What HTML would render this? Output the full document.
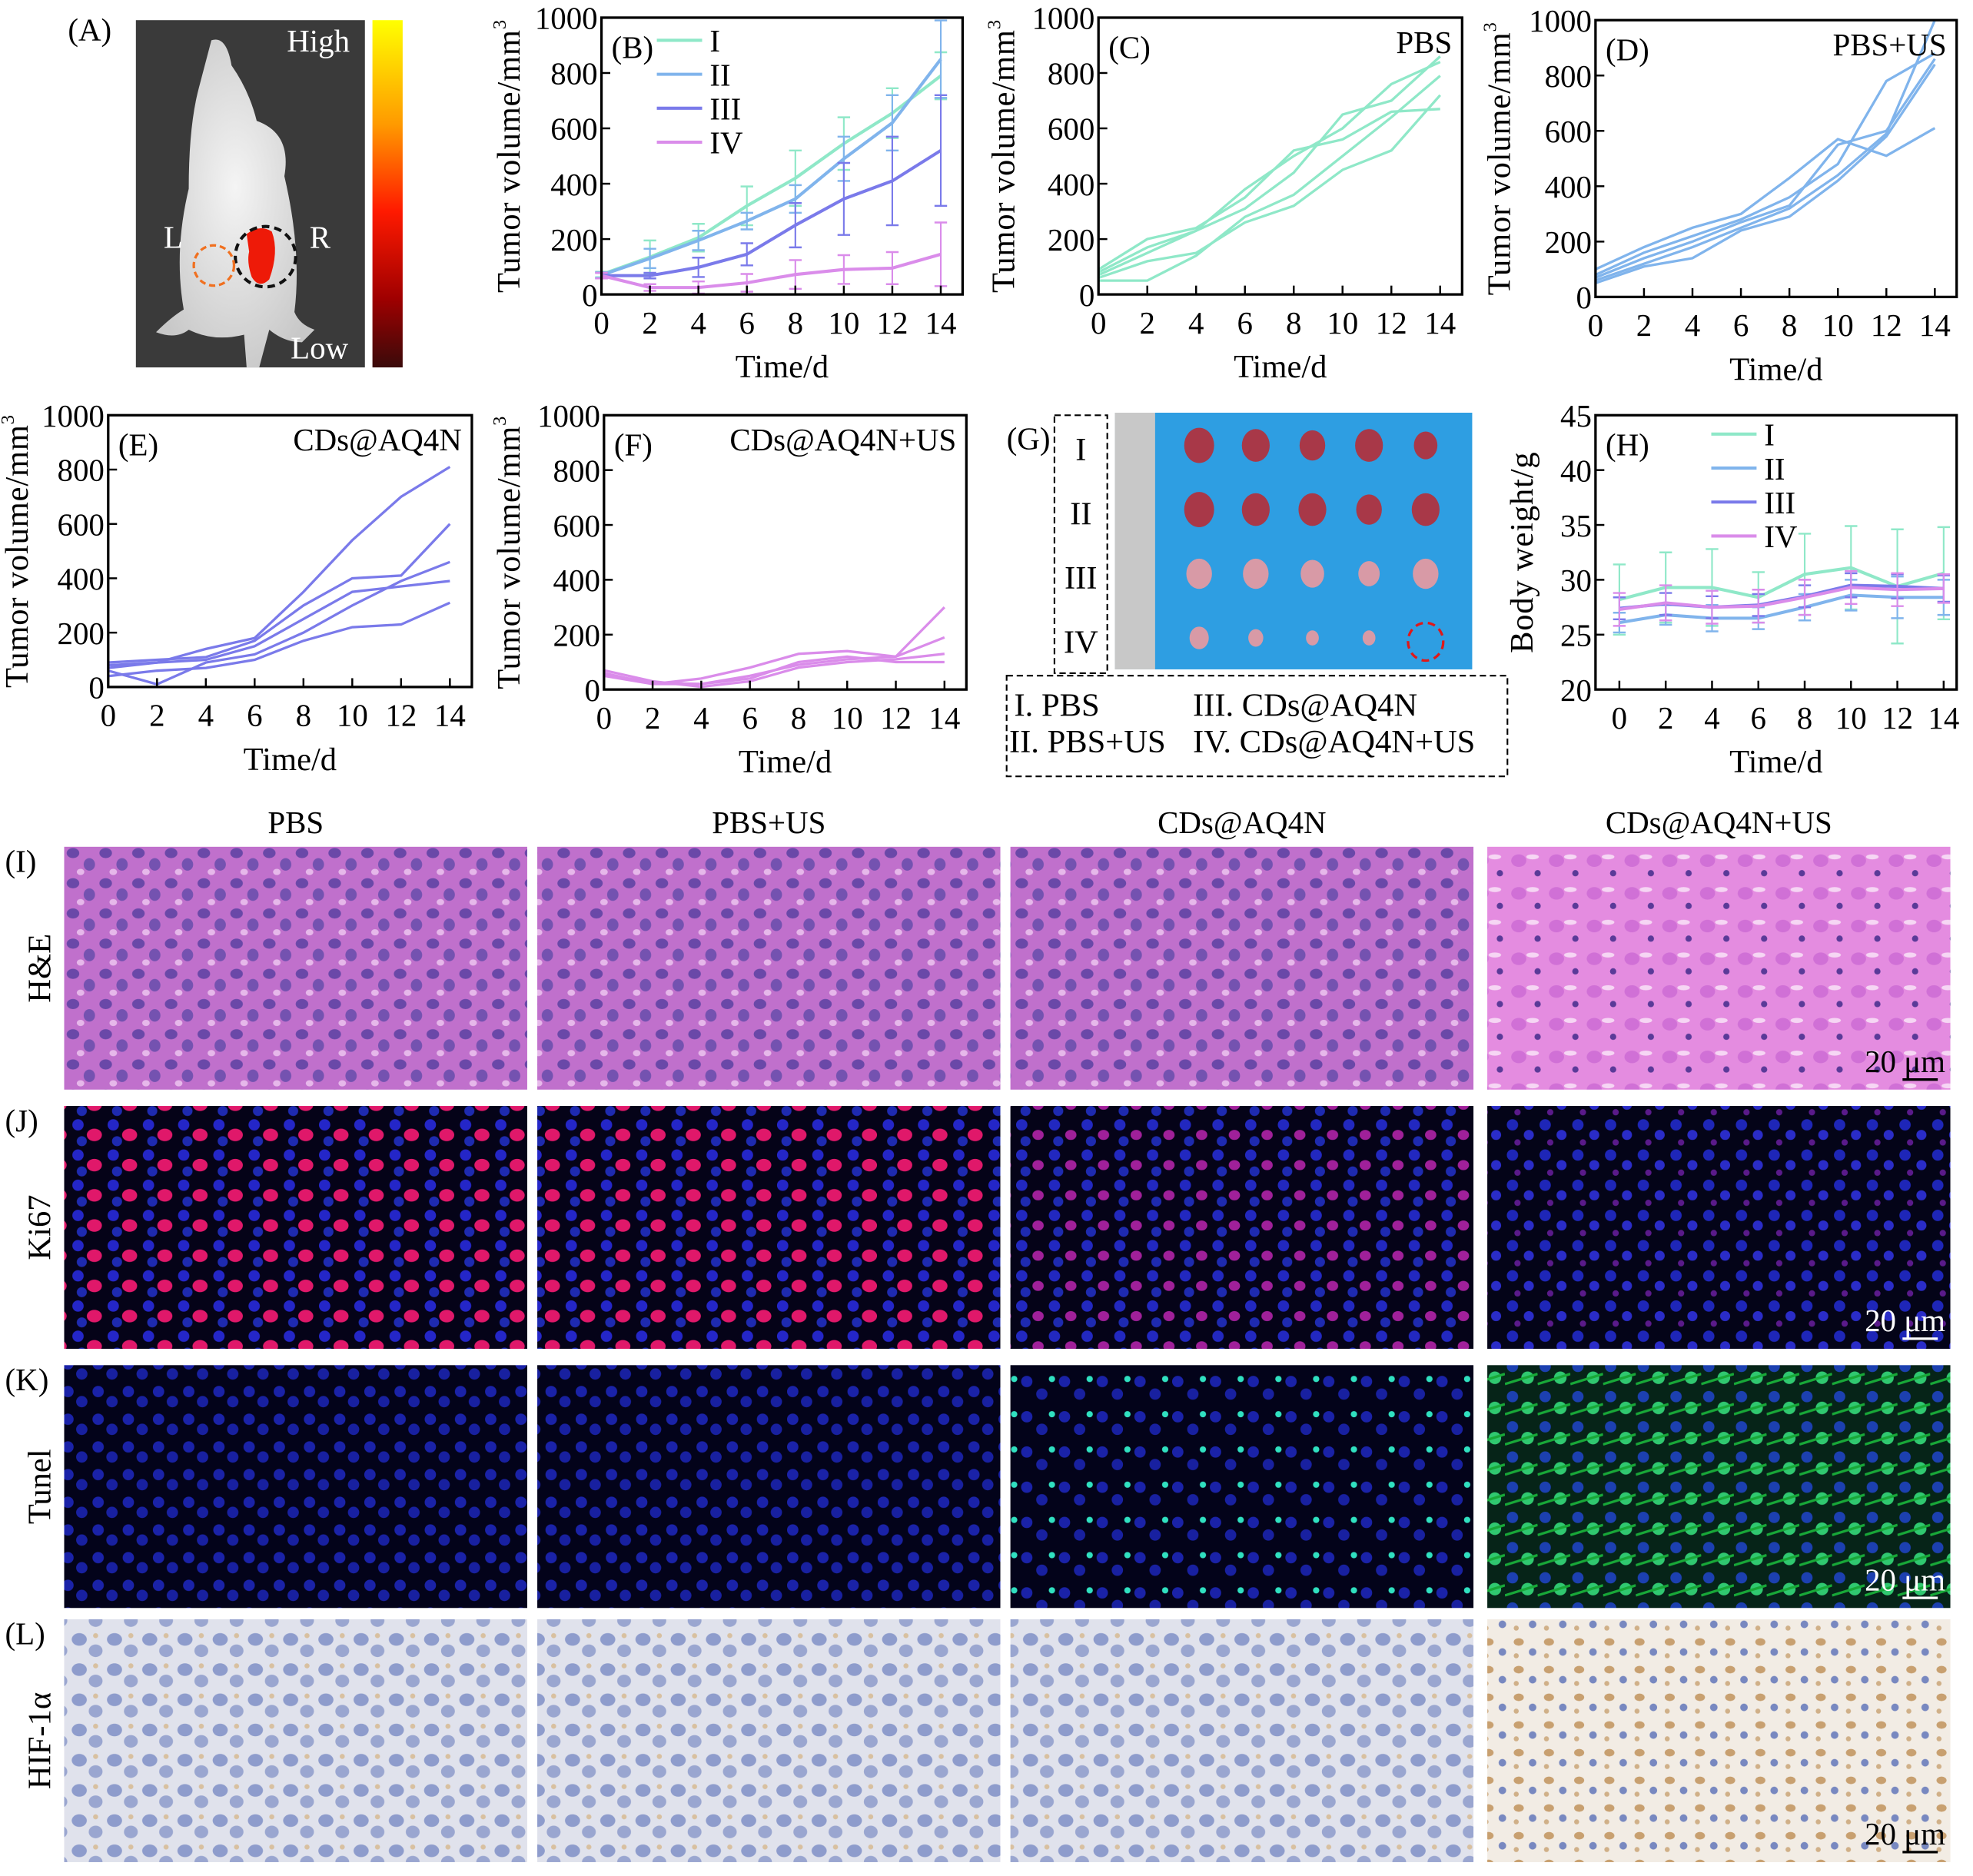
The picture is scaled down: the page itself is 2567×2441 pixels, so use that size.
<!DOCTYPE html>
<html><head><meta charset="utf-8"><style>
html,body{margin:0;padding:0;background:#fff}
svg{display:block}
text{font-family:"Liberation Serif",serif;fill:#000}
</style></head><body>
<svg id="fig" width="2567" height="2441" viewBox="0 0 1568 1491" xmlns="http://www.w3.org/2000/svg">
<defs>
<linearGradient id="cbar" x1="0" y1="0" x2="0" y2="1">
<stop offset="0" stop-color="#ffff00"/><stop offset="0.3" stop-color="#ff9a00"/><stop offset="0.55" stop-color="#ff1a00"/><stop offset="0.8" stop-color="#a00000"/><stop offset="1" stop-color="#3a0a0a"/></linearGradient>
<radialGradient id="mouse" cx="0.5" cy="0.45" r="0.6"><stop offset="0" stop-color="#f4f4f4"/><stop offset="1" stop-color="#c8c8c8"/></radialGradient>
<pattern id="he" width="26" height="24" patternUnits="userSpaceOnUse"><rect width="26" height="24" fill="#c070cc"/><ellipse cx="6" cy="6" rx="5" ry="4" fill="#6a48a8"/><ellipse cx="19" cy="15" rx="4.5" ry="5" fill="#7452b0"/><ellipse cx="12" cy="21" rx="3" ry="2.5" fill="#e6b8ea"/></pattern>
<pattern id="he2" width="30" height="26" patternUnits="userSpaceOnUse"><rect width="30" height="26" fill="#e48ce0"/><ellipse cx="7" cy="8" rx="6" ry="5" fill="#d070d6"/><circle cx="22" cy="18" r="2.5" fill="#5a3a98"/><ellipse cx="18" cy="5" rx="5" ry="2" fill="#f6d6f4"/></pattern>
<pattern id="ki" width="28" height="24" patternUnits="userSpaceOnUse"><rect width="28" height="24" fill="#050318"/><circle cx="6" cy="6" r="4.5" fill="#2426c8"/><ellipse cx="19" cy="14" rx="6" ry="5" fill="#e0186a"/><circle cx="9" cy="19" r="4" fill="#1e2ab0"/></pattern>
<pattern id="ki2" width="26" height="24" patternUnits="userSpaceOnUse"><rect width="26" height="24" fill="#050318"/><circle cx="6" cy="6" r="4.5" fill="#2228c0"/><ellipse cx="19" cy="14" rx="4.5" ry="4" fill="#a0209a"/><circle cx="9" cy="19" r="4" fill="#1e2ab0"/></pattern>
<pattern id="ki3" width="26" height="24" patternUnits="userSpaceOnUse"><rect width="26" height="24" fill="#040418"/><circle cx="6" cy="6" r="4.5" fill="#1e26b8"/><circle cx="19" cy="14" r="4" fill="#2a2cc8"/><circle cx="10" cy="20" r="2.5" fill="#5a1a8a"/></pattern>
<pattern id="tu" width="24" height="22" patternUnits="userSpaceOnUse"><rect width="24" height="22" fill="#03031a"/><circle cx="6" cy="6" r="4.5" fill="#1a22a8"/><circle cx="17" cy="14" r="4.5" fill="#1820a0"/></pattern>
<pattern id="tu3" width="30" height="28" patternUnits="userSpaceOnUse"><rect width="30" height="28" fill="#03031a"/><circle cx="6" cy="6" r="4.5" fill="#1a22a8"/><circle cx="18" cy="16" r="4.5" fill="#1820a0"/><circle cx="26" cy="4" r="2.5" fill="#30e0c0"/></pattern>
<pattern id="tu4" width="26" height="24" patternUnits="userSpaceOnUse"><rect width="26" height="24" fill="#062418"/><circle cx="6" cy="6" r="4.5" fill="#1c40b0"/><circle cx="18" cy="15" r="5" fill="#30c870"/><path d="M0 20 L26 12" stroke="#18a838" stroke-width="2"/></pattern>
<pattern id="hif" width="28" height="24" patternUnits="userSpaceOnUse"><rect width="28" height="24" fill="#e0e2ec"/><ellipse cx="7" cy="7" rx="6" ry="5" fill="#8e9ccc"/><ellipse cx="20" cy="16" rx="5.5" ry="5" fill="#9aa6d0"/><circle cx="20" cy="4" r="2" fill="#d8c0a0"/></pattern>
<pattern id="hif4" width="24" height="22" patternUnits="userSpaceOnUse"><rect width="24" height="22" fill="#f2ece4"/><ellipse cx="7" cy="7" rx="4" ry="3" fill="#c8a070"/><circle cx="18" cy="15" r="3" fill="#7888c0"/><circle cx="5" cy="18" r="2" fill="#d0b088"/></pattern>
</defs>
<g id="root"></g>
</svg>
<script>
const C1='#8fe8c8',C2='#80b4ec',C3='#7a7aea',C4='#da8cea';
const days=[0,2,4,6,8,10,12,14];
const bMeanI=[72,135,205,320,420,545,655,790];
const bMeanII=[70,130,195,265,345,490,620,850];
const bMeanIII=[68,68,98,145,250,345,410,520];
const bMeanIV=[68,25,25,42,72,90,95,145];
const bErrI=[10,60,50,70,100,95,90,85];
const bErrII=[10,35,35,30,50,80,100,140];
const bErrIII=[10,10,35,40,80,130,160,200];
const bErrIV=[10,12,22,32,52,52,58,115];
const cLines=[[90,200,240,350,520,560,660,670],[80,170,230,310,440,650,700,860],[50,50,140,280,360,500,640,790],[70,150,230,380,500,600,760,840],[60,120,150,260,320,450,520,720]];
const dLines=[[60,120,180,250,320,440,590,1000],[80,160,220,280,360,480,780,880],[70,140,200,270,330,550,600,860],[100,180,250,300,430,570,510,610],[50,110,140,240,290,420,580,840]];
const eLines=[[80,90,140,180,350,540,700,810],[90,100,110,170,300,400,410,600],[60,10,90,120,200,300,390,460],[70,90,100,150,250,350,370,390],[40,60,70,100,170,220,230,310]];
const fLines=[[60,20,40,80,130,140,120,300],[50,20,20,50,90,110,120,190],[70,30,10,30,80,100,110,130],[55,25,20,40,100,120,100,100]];
const hMeanI=[28.2,29.3,29.3,28.4,30.5,31.1,29.4,30.6];
const hMeanII=[26.1,26.8,26.5,26.5,27.5,28.6,28.4,28.4];
const hMeanIII=[27.4,27.8,27.5,27.7,28.5,29.5,29.4,29.2];
const hMeanIV=[27.3,27.9,27.5,27.6,28.4,29.3,29.1,29.2];
const hErrI=[3.2,3.2,3.5,2.3,3.7,3.8,5.2,4.2];
const hErrII=[0.9,0.9,1.2,1.0,1.2,1.4,1.9,1.6];
const hErrIII=[1.0,1.0,1.0,1.0,1.0,1.1,1.1,1.2];
const hErrIV=[1.5,1.6,1.5,1.5,1.6,1.5,1.5,1.3];
const tumorTicks=[0,200,400,600,800,1000];
const weightTicks=[20,25,30,35,40,45];
const groupNames=['I','II','III','IV'];

const NS='http://www.w3.org/2000/svg';
const root=document.getElementById('root');
function el(tag,attrs,parent,txt){const e=document.createElementNS(NS,tag);for(const k in attrs)e.setAttribute(k,attrs[k]);if(txt!==undefined)e.textContent=txt;(parent||root).appendChild(e);return e;}

function chart(c){
  const g=el('g',{});
  
  
  const sx=v=>c.x0+(v-c.xmin)/(c.xmax-c.xmin)*(c.x1-c.x0);
  const sy=v=>c.y1-(v-c.ymin)/(c.ymax-c.ymin)*(c.y1-c.y0);
  const data=el('g',{},g);
  (c.lines||[]).forEach((ln,i)=>{
    const p=el('polyline',{points:ln.map((v,j)=>sx(days[j])+','+sy(v)).join(' '),fill:'none',stroke:c.color,'stroke-width':2},data);
    
    
  });
  (c.series||[]).forEach((s,i)=>{
    s.err.forEach((e,j)=>{
      const x=sx(days[j]);
      el('line',{x1:x,x2:x,y1:sy(s.mean[j]-e),y2:sy(s.mean[j]+e),stroke:s.color,'stroke-width':1.3},data);
      [s.mean[j]-e,s.mean[j]+e].forEach(v=>el('line',{x1:x-5,x2:x+5,y1:sy(v),y2:sy(v),stroke:s.color,'stroke-width':1.5},data));
    });
    const p=el('polyline',{points:s.mean.map((v,j)=>sx(days[j])+','+sy(v)).join(' '),fill:'none',stroke:s.color,'stroke-width':2.5},data);
    
    
  });
  const fr=el('rect',{x:c.x0,y:c.y0,width:c.x1-c.x0,height:c.y1-c.y0,fill:'none',stroke:'#000','stroke-width':2},g);
  
  const xa=el('g',{},g);
  days.forEach(d=>{const x=sx(d);el('line',{x1:x,x2:x,y1:c.y1,y2:c.y1-7,stroke:'#000','stroke-width':1.5},xa);
    el('text',{x:x,y:c.y1+31,'text-anchor':'middle','font-size':25},xa,String(d));});
  const ya=el('g',{},g);
  c.yticks.forEach(t=>{const y=sy(t);el('line',{x1:c.x0,x2:c.x0+7,y1:y,y2:y,stroke:'#000','stroke-width':1.5},ya);
    el('text',{x:c.x0-3,y:y+9,'text-anchor':'end','font-size':25},ya,String(t));});
  const xt=el('text',{x:(c.x0+c.x1)/2,y:c.y1+66,'text-anchor':'middle','font-size':26},g,'Time/d');
  
  const yt=el('text',{transform:`translate(${c.ytx},${(c.y0+c.y1)/2}) rotate(-90)`,'text-anchor':'middle','font-size':26,'letter-spacing':0.5},g);
  
  if(c.yunit){yt.textContent='Tumor volume/mm';el('tspan',{'font-size':15,dy:-11},yt,'3');}else yt.textContent=c.ytitle;
  const pl=el('text',{x:c.x0+8,y:c.y0+32,'font-size':25},g,c.label);
  
  if(c.title){const t=el('text',{x:c.x1-8,y:c.y0+28,'text-anchor':'end','font-size':25},g,c.title);}
  if(c.legend){const lg=el('g',{},g);
    c.series.forEach((s,i)=>{const y=c.legend.y+i*27;el('line',{x1:c.legend.x,x2:c.legend.x+36,y1:y,y2:y,stroke:s.color,'stroke-width':2.5},lg);
      const t=el('text',{x:c.legend.x+42,y:y+9,'font-size':25},lg,groupNames[i]);});}
}
const tum={xmin:0,xmax:14.9,ymin:0,ymax:1000,yticks:tumorTicks,yunit:true};
chart(Object.assign({},tum,{name:'chart-b',x0:478,x1:765,y0:14,y1:234,ytx:413,label:'(B)',legend:{x:522,y:32},
  series:[{mean:bMeanI,err:bErrI,color:C1},{mean:bMeanII,err:bErrII,color:C2},{mean:bMeanIII,err:bErrIII,color:C3},{mean:bMeanIV,err:bErrIV,color:C4}]}));
chart(Object.assign({},tum,{name:'chart-c',x0:873,x1:1162,y0:14,y1:234,ytx:806,label:'(C)',title:'PBS',lines:cLines,color:C1}));
chart(Object.assign({},tum,{name:'chart-d',x0:1268,x1:1555,y0:16,y1:236,ytx:1200,label:'(D)',title:'PBS+US',lines:dLines,color:C2}));
chart(Object.assign({},tum,{name:'chart-e',x0:86,x1:375,y0:330,y1:546,ytx:22,label:'(E)',title:'CDs@AQ4N',lines:eLines,color:C3}));
chart(Object.assign({},tum,{name:'chart-f',x0:480,x1:768,y0:330,y1:548,ytx:413,label:'(F)',title:'CDs@AQ4N+US',lines:fLines,color:C4}));
chart({name:'chart-h',x0:1268,x1:1555,y0:330,y1:548,xmin:-1.03,xmax:14.56,ymin:20,ymax:45,yticks:weightTicks,ytx:1218,ytitle:'Body weight/g',label:'(H)',legend:{x:1360,y:345},
  series:[{mean:hMeanI,err:hErrI,color:C1},{mean:hMeanII,err:hErrII,color:C2},{mean:hMeanIII,err:hErrIII,color:C3},{mean:hMeanIV,err:hErrIV,color:C4}]});

// Panel A
const ga=el('g',{});
el('text',{x:54,y:32,'font-size':25},ga,'(A)');
el('rect',{x:108,y:16,width:182,height:276,fill:'#3a3a3a'},ga);
el('path',{d:'M168 32 Q180 28 184 52 Q198 72 204 96 Q232 106 226 140 Q240 200 234 248 Q238 258 250 262 L240 272 Q226 272 214 262 L206 292 L196 292 L194 266 Q170 272 150 262 Q140 270 124 264 Q136 252 146 246 Q138 200 150 150 Q150 100 158 70 Z',fill:'url(#mouse)'},ga);
el('path',{d:'M196 186 Q206 178 216 184 Q222 200 214 222 Q206 230 200 220 Q196 208 198 200 Z',fill:'#ee1a08'},ga);
el('circle',{cx:211,cy:204,r:24,fill:'none',stroke:'#111','stroke-width':2.5,'stroke-dasharray':'6 4'},ga);
el('circle',{cx:170,cy:211,r:16,fill:'none',stroke:'#f07020','stroke-width':2,'stroke-dasharray':'5 3'},ga);
el('text',{x:130,y:197,'font-size':25,style:'fill:#fff'},ga,'L');
el('text',{x:246,y:197,'font-size':25,style:'fill:#fff'},ga,'R');
el('text',{x:228,y:41,'font-size':25,style:'fill:#fff'},ga,'High');
el('text',{x:231,y:285,'font-size':25,style:'fill:#fff'},ga,'Low');
const cb=el('rect',{x:296,y:16,width:24,height:276,fill:'url(#cbar)'},ga);

// Panel G
const gg=el('g',{});
el('text',{x:800,y:357,'font-size':25},gg,'(G)');
el('rect',{x:838,y:330,width:42,height:205,fill:'none',stroke:'#000','stroke-width':1.3,'stroke-dasharray':'5 3'},gg);
['I','II','III','IV'].forEach((t,i)=>el('text',{x:859,y:366+i*51,'text-anchor':'middle','font-size':26},gg,t));
el('rect',{x:886,y:328,width:284,height:204,fill:'#2e9ee2'},gg);
el('rect',{x:886,y:328,width:32,height:204,fill:'#c8c8c8'},gg);
const sizes=[[14,13,12,13,11],[14,13,13,12,13],[12,12,11,10,12],[9,7,6,6,0]];
sizes.forEach((row,r)=>row.forEach((s,k)=>{if(s)el('ellipse',{cx:953+k*45,cy:354+r*51,rx:s*0.85,ry:s,fill:r<2?'#a83848':'#d89aa6'},gg);}));
el('ellipse',{cx:1133,cy:510,rx:14,ry:15,fill:'none',stroke:'#e01818','stroke-width':2,'stroke-dasharray':'6 4'},gg);
el('rect',{x:800,y:537,width:398,height:80,fill:'none',stroke:'#000','stroke-width':1.3,'stroke-dasharray':'5 3'},gg);
el('text',{x:806,y:569,'font-size':26},gg,'I. PBS');
el('text',{x:948,y:569,'font-size':26},gg,'III. CDs@AQ4N');
el('text',{x:802,y:598,'font-size':26},gg,'II. PBS+US');
el('text',{x:948,y:598,'font-size':26},gg,'IV. CDs@AQ4N+US');

// Histology grid
const colsX=[51,427,803,1182],colW=368;
const rowsY=[673,879,1085,1287],rowH=193;
const colT=['PBS','PBS+US','CDs@AQ4N','CDs@AQ4N+US'];
const rowL=['H&E','Ki67','Tunel','HIF-1α'];const rowP=['(I)','(J)','(K)','(L)'];
const fills=[['he','he','he','he2'],['ki','ki','ki2','ki3'],['tu','tu','tu3','tu4'],['hif','hif','hif','hif4']];
const gh=el('g',{});
colT.forEach((t,i)=>{const e=el('text',{x:colsX[i]+colW/2,y:662,'text-anchor':'middle','font-size':25},gh,t);});
rowsY.forEach((y,r)=>{
  el('text',{x:4,y:y+20,'font-size':25},gh,rowP[r]);
  el('text',{transform:`translate(40,${y+rowH/2}) rotate(-90)`,'text-anchor':'middle','font-size':26},gh,rowL[r]);
  colsX.forEach((x,c)=>{const im=el('rect',{x:x,y:y,width:colW,height:rowH,fill:'url(#'+fills[r][c]+')'},gh);
    });
  const dark=r===1||r===2;
  el('text',{x:1546,y:y+rowH-14,'text-anchor':'end','font-size':25,style:'fill:'+(dark?'#fff':'#000')},gh,'20 μm');
  el('line',{x1:1512,x2:1540,y1:y+rowH-8,y2:y+rowH-8,stroke:dark?'#fff':'#000','stroke-width':2},gh);
});
</script>
</body></html>
